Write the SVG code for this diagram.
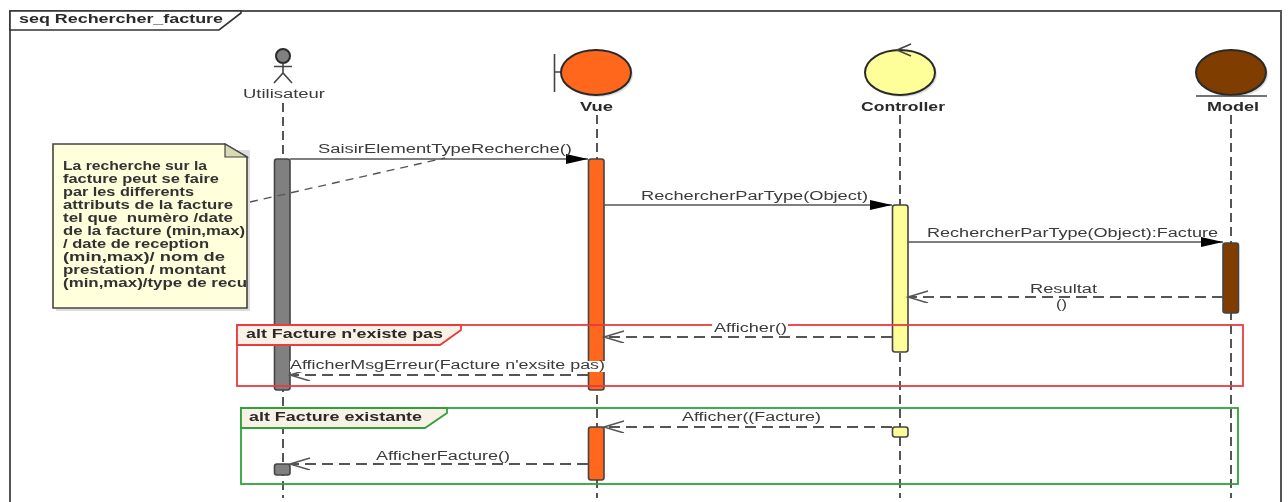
<svg xmlns="http://www.w3.org/2000/svg" width="1288" height="502" viewBox="0 0 1288 502">
<style>
text{font-family:"Liberation Sans",Arial,sans-serif;font-size:12px;fill:#3a3a3a;white-space:pre}
.b{font-weight:bold;fill:#2a2a2a}
.n{font-weight:bold;font-size:12.5px;fill:#333}
.life{stroke:#555;stroke-width:2;stroke-dasharray:9 5;fill:none}
.act{stroke:#444;stroke-width:1.6}
.shape{stroke:#2a2a2a;stroke-width:2}
.shadow{fill:#ddd;stroke:none}
.thin{stroke:#444;stroke-width:1.6;fill:none}
.sync{stroke:#555;stroke-width:1.5;fill:none;marker-end:url(#fill)}
.ret{stroke:#555;stroke-width:1.8;stroke-dasharray:11 6;fill:none;marker-end:url(#open)}
.tab{fill:#faf1e6}
</style>
<defs>
<marker id="fill" markerUnits="userSpaceOnUse" markerWidth="24" markerHeight="12" refX="22" refY="5" orient="auto"><path d="M0 0L22 5L0 10Z" fill="#000"/></marker>
<marker id="open" markerUnits="userSpaceOnUse" markerWidth="24" markerHeight="14" refX="21" refY="6" orient="auto"><path d="M1 0L21 6L1 12" fill="none" stroke="#555" stroke-width="1.5"/></marker>
<filter id="soft" x="-2%" y="-2%" width="104%" height="104%"><feGaussianBlur stdDeviation="0.6"/></filter>
</defs>
<rect width="1288" height="502" fill="#fff"/>
<g filter="url(#soft)">
<g id="frame">
<path d="M10 502V11H1281V502" fill="none" stroke="#555" stroke-width="2"/>
<path d="M10 11H241V13L219 30H10Z" fill="#fff" stroke="#333" stroke-width="1.6"/>
<text class="b" x="19" y="23" textLength="204" lengthAdjust="spacingAndGlyphs">seq Rechercher_facture</text>
</g>
<g id="lifelines">
<path class="life" d="M283 103V498"/>
<path class="life" d="M597 115V498"/>
<path class="life" d="M900 115V498"/>
<path class="life" d="M1231 115V498"/>
</g>
<g id="activations">
<rect class="act" x="274.500" y="159" width="15.500" height="231" rx="2.500" fill="#808080"/>
<rect class="act" x="274.500" y="464" width="15.500" height="11" rx="2.500" fill="#808080"/>
<rect class="act" x="588.500" y="159" width="15.500" height="231" rx="2.500" fill="#ff681c"/>
<rect class="act" x="588.500" y="427" width="15.500" height="53" rx="2.500" fill="#ff681c"/>
<rect class="act" x="892.500" y="205" width="15.500" height="147" rx="2.500" fill="#ffff99"/>
<rect class="act" x="892.500" y="427" width="15.500" height="10" rx="2.500" fill="#ffff99"/>
<rect class="act" x="1223" y="243" width="15.500" height="70" rx="2.500" fill="#7f3c00"/>
</g>
<g id="fragment-red">
<rect x="237" y="325" width="1006" height="61" fill="none" stroke="#ec3a3f" stroke-width="1.8"/>
<path class="tab" d="M237 325H461V330L440 345H237Z" stroke="#ec3a3f" stroke-width="1.8"/>
<text class="b" x="246" y="338" textLength="197" lengthAdjust="spacingAndGlyphs">alt Facture n'existe pas</text>
</g>
<g id="fragment-green">
<rect x="241" y="408" width="997" height="76" fill="none" stroke="#2fa33a" stroke-width="1.8"/>
<path class="tab" d="M241 408H447V413L425 428H241Z" stroke="#2fa33a" stroke-width="1.8"/>
<text class="b" x="249" y="421" textLength="173" lengthAdjust="spacingAndGlyphs">alt Facture existante</text>
</g>
<g id="note">
<path class="shadow" d="M56 150H250V311H56Z"/>
<path d="M53 144H225L247 157V308H53Z" fill="#ffffdc" stroke="#444" stroke-width="1.6"/>
<path d="M225 144V157H247Z" fill="#d9d9b5" stroke="#444" stroke-width="1.2"/>
<text class="n" x="63" y="170" textLength="144" lengthAdjust="spacingAndGlyphs">La recherche sur la</text>
<text class="n" x="63" y="183" textLength="156" lengthAdjust="spacingAndGlyphs">facture peut se faire</text>
<text class="n" x="63" y="196" textLength="131" lengthAdjust="spacingAndGlyphs">par les differents</text>
<text class="n" x="63" y="209" textLength="170" lengthAdjust="spacingAndGlyphs">attributs de la facture</text>
<text class="n" x="63" y="222" textLength="170" lengthAdjust="spacingAndGlyphs">tel que  numèro /date</text>
<text class="n" x="63" y="235" textLength="182" lengthAdjust="spacingAndGlyphs">de la facture (min,max)</text>
<text class="n" x="63" y="248" textLength="146" lengthAdjust="spacingAndGlyphs">/ date de reception</text>
<text class="n" x="63" y="261" textLength="162" lengthAdjust="spacingAndGlyphs">(min,max)/ nom de</text>
<text class="n" x="63" y="274" textLength="163" lengthAdjust="spacingAndGlyphs">prestation / montant</text>
<text class="n" x="63" y="287" textLength="184" lengthAdjust="spacingAndGlyphs">(min,max)/type de recu</text>
</g>
<g id="actor-utilisateur">
<circle class="shape" cx="283" cy="56" r="7" fill="#808080"/>
<path class="thin" d="M283 63V73M274 66.500H292M274 83L283 73L292 83"/>
<text x="243" y="98" textLength="82" lengthAdjust="spacingAndGlyphs">Utilisateur</text>
</g>
<g id="boundary-vue">
<path class="thin" d="M554.500 54V92M554.500 72H561"/>
<ellipse class="shadow" cx="598" cy="74.500" rx="35" ry="22.500"/>
<ellipse class="shape" cx="596" cy="72.500" rx="35" ry="22.500" fill="#ff681c"/>
<text class="b" x="580" y="111" textLength="33" lengthAdjust="spacingAndGlyphs">Vue</text>
</g>
<g id="control-controller">
<ellipse class="shadow" cx="902" cy="74.500" rx="35" ry="22.500"/>
<ellipse class="shape" cx="900" cy="72.500" rx="35" ry="22.500" fill="#ffff99"/>
<path class="thin" d="M911 44L897 50L911 56"/>
<text class="b" x="861" y="111" textLength="84" lengthAdjust="spacingAndGlyphs">Controller</text>
</g>
<g id="entity-model">
<ellipse class="shadow" cx="1233" cy="74.500" rx="35" ry="22.500"/>
<ellipse class="shape" cx="1231" cy="72.500" rx="35" ry="22.500" fill="#7f3c00"/>
<path class="thin" d="M1196 96H1267"/>
<text class="b" x="1207" y="111" textLength="52" lengthAdjust="spacingAndGlyphs">Model</text>
</g>
<g id="connectors">
<path d="M250 202L445 158" fill="none" stroke="#555" stroke-width="1.4" stroke-dasharray="8 6"/>
<path class="sync" d="M290 159H588"/>
<path class="sync" d="M604 205H892"/>
<path class="sync" d="M908 242H1223"/>
<path class="ret" d="M1223 297H908"/>
<path class="ret" d="M892 337H604"/>
<path class="ret" d="M588 375H290"/>
<path class="ret" d="M892 427H604"/>
<path class="ret" d="M588 464H290"/>
</g>
<g id="connector-labels">
<text x="318" y="153" textLength="254" lengthAdjust="spacingAndGlyphs">SaisirElementTypeRecherche()</text>
<text x="641" y="200" textLength="227" lengthAdjust="spacingAndGlyphs">RechercherParType(Object)</text>
<text x="927" y="237" textLength="291" lengthAdjust="spacingAndGlyphs">RechercherParType(Object):Facture</text>
<text x="1030" y="293" textLength="67" lengthAdjust="spacingAndGlyphs">Resultat</text>
<rect x="1054" y="298" width="14" height="12" fill="#fff"/>
<text x="1056" y="308" textLength="11" lengthAdjust="spacingAndGlyphs">()</text>
<rect x="712" y="321" width="76" height="14" fill="#fff"/>
<text x="714" y="332" textLength="73" lengthAdjust="spacingAndGlyphs">Afficher()</text>
<rect x="290" y="361" width="316" height="11" fill="#fff"/>
<text x="290" y="369" textLength="315" lengthAdjust="spacingAndGlyphs">AfficherMsgErreur(Facture n'exsite pas)</text>
<text x="682" y="421" textLength="139" lengthAdjust="spacingAndGlyphs">Afficher((Facture)</text>
<text x="376" y="460" textLength="134" lengthAdjust="spacingAndGlyphs">AfficherFacture()</text>
</g>
</g>
</svg>
